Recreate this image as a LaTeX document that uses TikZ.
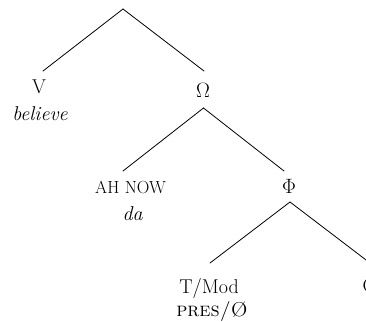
\documentclass[tikz,border=0pt]{standalone}
\begin{document}
\begin{tikzpicture}[x=1pt,y=-1pt,
  lbl/.style={inner sep=0pt, anchor=base, font=\fontsize{20}{24}\selectfont},
  small/.style={inner sep=0pt, anchor=base, font=\fontsize{17.5}{21}\selectfont},
  branch/.style={line width=0.8pt, line cap=round}]
\useasboundingbox (0,0) rectangle (366,321);
\clip (0,0) rectangle (366,321);
% line end points
\coordinate (root) at (123,9);
\coordinate (vtop) at (43,71);
\coordinate (omtop) at (204,71);
\coordinate (omap) at (203.5,108);
\coordinate (ahtop) at (123,171);
\coordinate (phtop) at (284,171);
\coordinate (phap) at (290,202);
\coordinate (ttop) at (210,263);
\coordinate (ctop) at (370,263);
% labels
\node[lbl] (V) at (39,93) {V};
\node[lbl] (believe) at (40,120) {\itshape believe};
\node[lbl] (Om) at (203,97) {$\Omega$};
\node[small] (ah) at (130.5,193) {AH NOW};
\node[lbl] (da) at (132.5,220) {\itshape da};
\node[lbl] (Ph) at (289,193) {$\Phi$};
\node[lbl] (T) at (209,293) {T/Mod};
\node[lbl] (pres) at (212,316) {\scshape pres/\O};
\node[lbl, anchor=base west] (C) at (362.5,292) {C};
% branches
\draw[branch] (root) -- (vtop);
\draw[branch] (root) -- (omtop);
\draw[branch] (omap) -- (ahtop);
\draw[branch] (omap) -- (phtop);
\draw[branch] (phap) -- (ttop);
\draw[branch] (phap) -- (ctop);
\end{tikzpicture}
\end{document}
